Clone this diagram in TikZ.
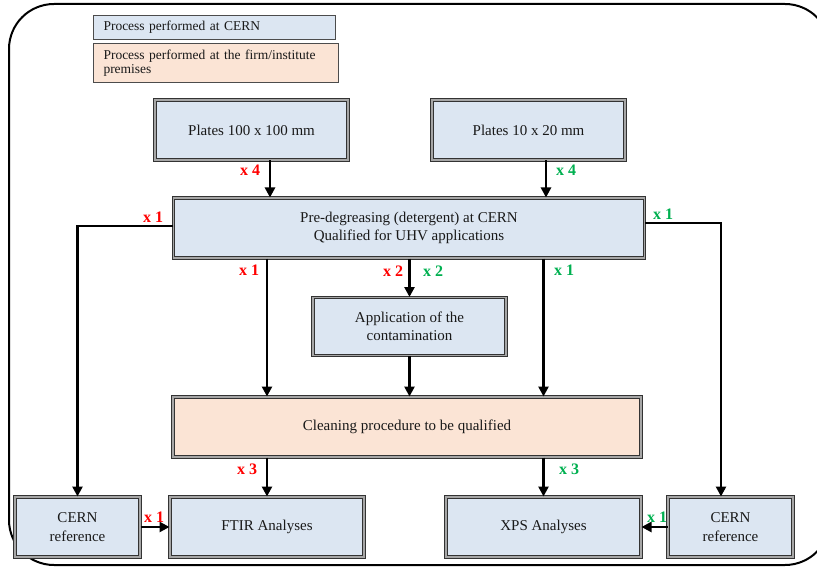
\documentclass[tikz,border=0pt]{standalone}
\usepackage{fontspec}
\setmainfont{Liberation Serif}
\usetikzlibrary{arrows.meta}
\definecolor{boxblue}{HTML}{DCE6F2}
\definecolor{boxpeach}{HTML}{FBE4D5}
\definecolor{lblred}{HTML}{FF0000}
\definecolor{lblgreen}{HTML}{00B050}
\begin{document}
\begin{tikzpicture}[x=1pt,y=-1pt,
  box/.style={draw=black!80, double=black!35, double distance=1.3pt, line width=1pt,
    fill=boxblue, minimum height=60pt, inner sep=2pt, align=center,
    font=\fontsize{15}{18.5}\selectfont, text=black!90},
  peach/.style={fill=boxpeach},
  legend/.style={draw=black!70, line width=1pt, fill=boxblue, anchor=north west,
    inner xsep=10pt, inner ysep=2pt, align=left, text=black!90,
    font=\fontsize{13.5}{14.5}\selectfont},
  arr/.style={line width=2.6pt, -{Triangle[length=10pt,width=10pt]}},
  lbl/.style={font=\bfseries\fontsize{16}{18}\selectfont, inner sep=0pt},
  rd/.style={lbl, text=lblred},
  gn/.style={lbl, text=lblgreen}]
\useasboundingbox (0,0) rectangle (817,567);
\begin{scope}
\clip (0,0) rectangle (817,567);
\draw[line width=2pt, rounded corners=45pt] (9,4) rectangle (830,565);
\end{scope}

% legend
\node[legend, text width=222pt, minimum height=24pt] (leg1) at (93,15) {Process performed at CERN};
\node[legend, peach, text width=225pt, minimum height=39pt] (leg2) at (93,43) {Process performed at the firm/institute\\premises};

% boxes
\node[box, minimum width=193pt] (p100) at (251.5,130) {Plates 100 x 100 mm};
\node[box, minimum width=193pt] (p10) at (528.5,130) {Plates 10 x 20 mm};
\node[box, minimum width=471pt] (pre) at (409,228) {Pre-degreasing (detergent) at CERN\\Qualified for UHV applications};
\node[box, minimum width=193pt, minimum height=58pt] (app) at (409.5,326.5) {Application of the\\contamination};
\node[box, peach, minimum width=468pt] (clean) at (407,427) {Cleaning procedure to be qualified};
\node[box, minimum width=125pt] (cernL) at (77.5,527) {CERN\\reference};
\node[box, minimum width=194pt] (ftir) at (267,527) {FTIR Analyses};
\node[box, minimum width=195pt] (xps) at (543.5,527) {XPS Analyses};
\node[box, minimum width=125pt] (cernR) at (730.5,527) {CERN\\reference};

% connectors
\draw[arr] ([xshift=18.5pt]p100.south) -- ([xshift=18.5pt]p100.south |- pre.north);
\draw[arr] ([xshift=17.5pt]p10.south) -- ([xshift=17.5pt]p10.south |- pre.north);
\draw[arr] ([yshift=2pt]pre.west) -| (cernL.north);
\draw[arr] ([yshift=5pt]pre.east) -| ([xshift=-9.5pt]cernR.north);
\draw[arr] (pre.south -| ftir.north) -- (clean.north -| ftir.north);
\draw[arr] (pre.south -| app.north) -- (app.north);
\draw[arr] (pre.south -| xps.north) -- (clean.north -| xps.north);
\draw[arr] (app.south) -- (clean.north -| app.south);
\draw[arr] (clean.south -| ftir.north) -- (ftir.north);
\draw[arr] (clean.south -| xps.north) -- (xps.north);
\draw[arr] (cernL.east) -- (ftir.west);
\draw[arr] (cernR.west) -- (xps.east);

% labels
\node[rd] (l1) at (250,170) {x 4};
\node[gn] (l2) at (566,170) {x 4};
\node[rd] (l3) at (153,217) {x 1};
\node[gn] (l4) at (663,214) {x 1};
\node[rd] (l5) at (249,270) {x 1};
\node[rd] (l6) at (393,271) {x 2};
\node[gn] (l7) at (433,271) {x 2};
\node[gn] (l8) at (564,270) {x 1};
\node[rd] (l9) at (247,469) {x 3};
\node[gn] (l10) at (569,469) {x 3};
\node[rd] (l11) at (154,517) {x 1};
\node[gn] (l12) at (657,517) {x 1};
\end{tikzpicture}
\end{document}
